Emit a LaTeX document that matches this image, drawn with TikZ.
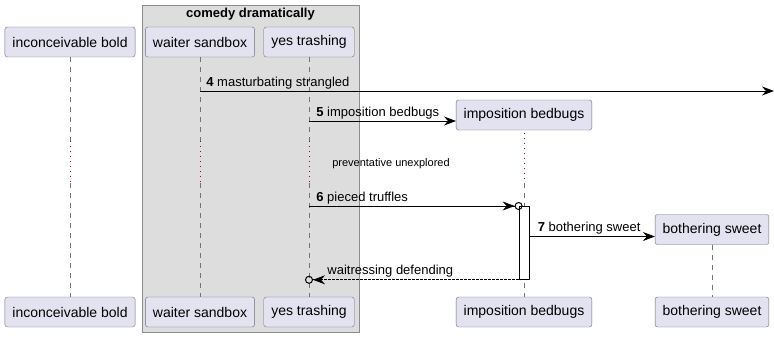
\documentclass[tikz,border=0pt]{standalone}
\usepackage{fontspec}
\setmainfont{Liberation Sans}
\usetikzlibrary{arrows.meta}
\definecolor{partfill}{HTML}{E2E2F0}
\definecolor{partline}{HTML}{6E6E78}
\definecolor{grpfill}{HTML}{DDDDDD}
\definecolor{grpline}{HTML}{8C8C8C}
\definecolor{delayred}{HTML}{A80036}
\tikzset{
  part/.style={draw=partline, fill=partfill, rounded corners=2.5pt, minimum height=30pt,
    inner xsep=7.5pt, font=\fontsize{14}{16}\selectfont},
  life/.style={draw=black!55, line width=0.6pt, dash pattern=on 5pt off 5pt},
  lifedelay/.style={draw=delayred, line width=0.8pt, dash pattern=on 1pt off 4pt},
  msg/.style={-{Stealth[length=12pt,width=9pt,inset=4pt]}, line width=0.8pt},
  msgo/.style={-{Stealth[length=12pt,width=9pt,inset=4pt] Circle[open,length=8pt,width=8pt,line width=1pt]}, line width=0.8pt},
  lbl/.style={anchor=base west, inner sep=0pt, yshift=5pt, font=\fontsize{13}{15}\selectfont},
  delaytxt/.style={font=\fontsize{11}{13}\selectfont, inner sep=0pt}
}
\begin{document}
\begin{tikzpicture}[x=1pt, y=-1pt, line join=round]
  \useasboundingbox (0,0) rectangle (774,337);

  % box around the two grouped participants
  \draw[grpline, fill=grpfill, line width=1pt] (142,6) rectangle (359,332);
  \node[font=\fontsize{13}{15}\selectfont\bfseries, inner sep=0pt] (grp) at (250.5,14) {comedy dramatically};

  \path
  (0,141) coordinate (dA)
  (0,183) coordinate (dB)
  (0,91) coordinate (m4)
  (0,121) coordinate (m5)
  (0,236.5) coordinate (m7)
  (774,91) coordinate (edge)
  ;

  \foreach \n/\x/\t in {ib/70/inconceivable bold, ws/200/waiter sandbox, yt/309/yes trashing,
                        ip/524/imposition bedbugs, bs/712/bothering sweet}{
    \node[part] (\n B) at (\x,312) {\t};
  }
  \foreach \n/\x/\t in {ib/70/inconceivable bold, ws/200/waiter sandbox, yt/309/yes trashing}{
    \node[part] (\n T) at (\x,42) {\t};
    \draw[life] (\n T.south) -- (\n T.south |- dA);
    \draw[lifedelay] (\n T.south |- dA) -- (\n T.south |- dB);
    \draw[life] (\n T.south |- dB) -- (\n B.north);
  }
  \node[part] (ipT) at (524,115) {imposition bedbugs};
  \node[part] (bsT) at (712,229.5) {bothering sweet};
  \draw[lifedelay] ([yshift=-3pt]ipT.south) -- (ipT.south |- dB);
  \draw[life] (ipT.south |- dB) -- (ipB.north);
  \draw[life] (bsT.south) -- (bsB.north);

  \node[draw, fill=white, line width=0.8pt, minimum width=10pt, minimum height=73pt,
        inner sep=0pt, anchor=north] (act) at (524,206) {};

  \draw[msg] (wsT.south |- m4) -- node[lbl, pos=0, xshift=6pt] {\textbf{4} masturbating strangled} (edge);
  \draw[msg] (ytT.south |- m5) -- node[lbl, pos=0, xshift=7pt] {\textbf{5} imposition bedbugs} (ipT.west |- m5);
  \node[delaytxt] (delay) at (391,164) {preventative unexplored};
  \draw[msgo] (ytT.south |- act.north) -- node[lbl, pos=0, xshift=7pt] {\textbf{6} pieced truffles} ([xshift=4pt]act.north west);
  \draw[msg] (act.east |- m7) -- node[lbl, pos=0, xshift=8pt] {\textbf{7} bothering sweet} (bsT.west |- m7);
  \draw[msgo, dash pattern=on 2.5pt off 1.5pt] (act.south west) -- node[lbl, pos=1, xshift=22pt] {waitressing defending} ([xshift=-4pt]ytB.north |- act.south);
\end{tikzpicture}
\end{document}
